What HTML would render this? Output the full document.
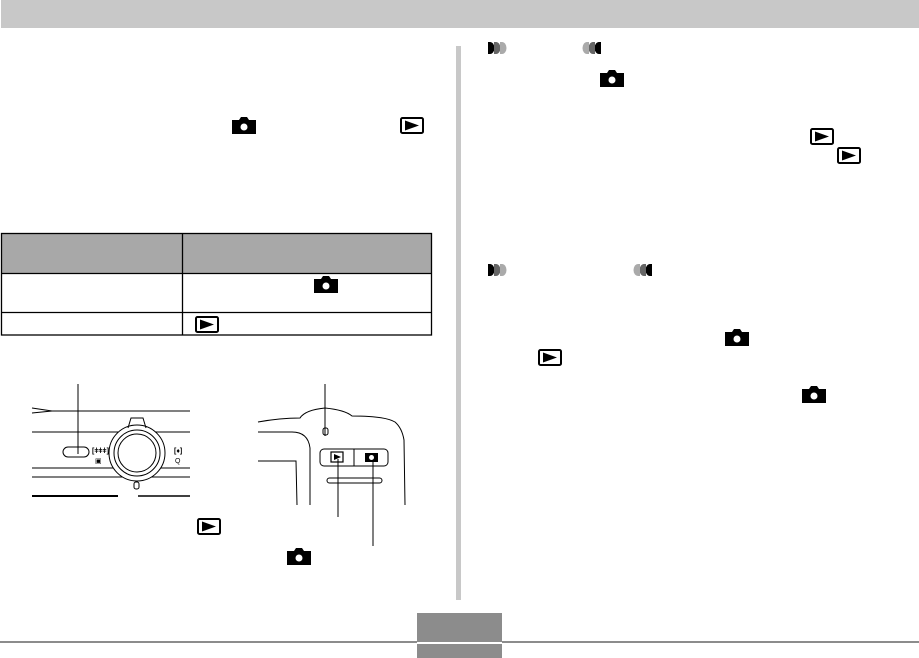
<!DOCTYPE html>
<html><head><style>
body{margin:0;width:919px;height:658px;background:#fff;position:relative;overflow:hidden;font-family:"Liberation Sans",sans-serif}
.a{position:absolute}
</style></head><body>
<div class="a" style="left:1px;top:0;width:918px;height:28px;background:#c8c8c8"></div>
<div class="a" style="left:456px;top:46px;width:5px;height:554px;background:#c8c8c8"></div>
<div class="a" style="left:1px;top:233px;width:430px;height:40px;background:#a8a8a8"></div>
<svg class="a" style="left:0;top:0" width="919" height="658">
<g stroke="#000" stroke-width="1.3" fill="none">
<rect x="1.5" y="233.5" width="430" height="101.5"/>
<line x1="1" y1="273.5" x2="431" y2="273.5"/>
<line x1="1" y1="312.5" x2="431" y2="312.5"/>
<line x1="182.5" y1="233" x2="182.5" y2="335"/>
</g>
<g stroke="#000" stroke-width="1" fill="none">
<line x1="78" y1="384" x2="78" y2="454"/>
<path d="M32 408 L52 411 L32 413"/>
<line x1="52" y1="411" x2="190" y2="411"/>
<line x1="32" y1="432" x2="190" y2="432"/>
<line x1="32" y1="468" x2="190" y2="468"/>
<line x1="32" y1="477" x2="190" y2="477"/>
<line x1="32" y1="496" x2="118" y2="496" stroke-width="2"/>
<line x1="138" y1="496" x2="190" y2="496" stroke-width="1.5"/>
<rect x="63" y="447" width="26" height="10" rx="5"/>
<circle cx="137" cy="453" r="28" fill="#fff"/>
<circle cx="137" cy="453" r="23"/>
<circle cx="137" cy="453" r="19"/>
<path d="M128 428 L131 418 L143 418 L146 428"/>
<rect x="134" y="482" width="5" height="7" rx="2"/>
<line x1="325" y1="384" x2="325" y2="436"/>
<path d="M258 422 Q280 418 300 418 Q305 410 325 408 Q345 410 352 416 Q385 416 395 422 Q402 428 404 440 L405 505"/>
<path d="M258 432 L292 432 Q308 432 310 448 L310 505"/>
<path d="M258 461 L296 461 L297 505"/>
<rect x="323" y="428" width="5" height="7" rx="2"/>
<rect x="320" y="449" width="68" height="17" rx="4"/>
<line x1="354" y1="449" x2="354" y2="466"/>
<rect x="327" y="478" width="55" height="5" rx="2.5"/>
<line x1="338" y1="459" x2="338" y2="517"/>
<line x1="373" y1="459" x2="373" y2="546"/>
</g>
<rect x="331" y="452" width="12" height="10" fill="none" stroke="#000" stroke-width="1.2"/>
<path d="M334 454 L341 457 L334 460Z"/>
<rect x="365" y="453" width="13" height="9" fill="#000"/><circle cx="371.5" cy="457.5" r="2.5" fill="#fff"/>
<text x="92" y="453" font-size="7" font-weight="bold">[ǂǂǂ]</text>
<text x="174" y="453" font-size="7" font-weight="bold">[♦]</text>
<text x="95" y="463" font-size="7">▣</text><text x="175" y="463" font-size="7">Q</text>
<g>
<path d="M488 42 h2 a4.5 6 0 0 1 0 12 h-2z" fill="#000"/><path d="M494 42 h2 a4.5 6 0 0 1 0 12 h-2z" fill="#666"/><path d="M500 42 h2 a4.5 6 0 0 1 0 12 h-2z" fill="#aaa"/>
<path d="M601 42 h-2 a4.5 6 0 0 0 0 12 h2z" fill="#000"/><path d="M595 42 h-2 a4.5 6 0 0 0 0 12 h2z" fill="#666"/><path d="M589 42 h-2 a4.5 6 0 0 0 0 12 h2z" fill="#aaa"/>
<path d="M488 264 h2 a4.5 6 0 0 1 0 12 h-2z" fill="#000"/><path d="M494 264 h2 a4.5 6 0 0 1 0 12 h-2z" fill="#666"/><path d="M500 264 h2 a4.5 6 0 0 1 0 12 h-2z" fill="#aaa"/>
<path d="M652 264 h-2 a4.5 6 0 0 0 0 12 h2z" fill="#000"/><path d="M646 264 h-2 a4.5 6 0 0 0 0 12 h2z" fill="#666"/><path d="M640 264 h-2 a4.5 6 0 0 0 0 12 h2z" fill="#aaa"/>
</g>
<defs>
<g id="c"><path d="M0 3 h7 l2 -3 h6 l2 3 h7 v14 h-24z" fill="#000"/><circle cx="12" cy="10" r="3.5" fill="#fff"/></g>
<g id="p"><rect x="1" y="1" width="22" height="15" rx="1.5" fill="#fff" stroke="#000" stroke-width="2"/><path d="M5 3.5 L19 8.5 L5 13.5Z" fill="#000"/></g>
</defs>
<use href="#c" x="232" y="117"/><use href="#c" x="314" y="276"/><use href="#c" x="600" y="70"/>
<use href="#c" x="725" y="329"/><use href="#c" x="802" y="386"/><use href="#c" x="287" y="548"/>
<use href="#p" x="400" y="117"/><use href="#p" x="195" y="316"/><use href="#p" x="810" y="128"/>
<use href="#p" x="837" y="147"/><use href="#p" x="538" y="349"/><use href="#p" x="197" y="518"/>
<rect x="0" y="641" width="919" height="2" fill="#8c8c8c"/>
<rect x="417" y="613" width="85" height="28" fill="#8c8c8c"/>
<rect x="417" y="644" width="85" height="14" fill="#8c8c8c"/>
<rect x="417" y="642" width="85" height="2" fill="#fff"/>
</svg>
</body></html>
